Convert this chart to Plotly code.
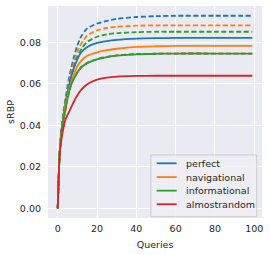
import plotly.graph_objects as go

queries = [0, 1, 2, 3, 4, 5, 6, 7, 8, 10, 12, 15, 20, 25, 30, 40, 50, 60, 80, 99]

perfect_solid = [0, 0.027, 0.038, 0.045, 0.051, 0.056, 0.060, 0.064, 0.067, 0.0718, 0.0752, 0.0778, 0.0797, 0.0806, 0.0812, 0.0818, 0.0820, 0.0821, 0.0821, 0.0821]
navigational_solid = [0, 0.027, 0.037, 0.044, 0.050, 0.054, 0.058, 0.061, 0.064, 0.0685, 0.0712, 0.0735, 0.0752, 0.0762, 0.0769, 0.0778, 0.0781, 0.0783, 0.0783, 0.0783]
informational_solid = [0, 0.027, 0.037, 0.043, 0.048, 0.053, 0.057, 0.060, 0.062, 0.0655, 0.0680, 0.0700, 0.0718, 0.0729, 0.0736, 0.0742, 0.0745, 0.0746, 0.0746, 0.0746]
almostrandom_solid = [0, 0.026, 0.034, 0.039, 0.043, 0.045, 0.047, 0.049, 0.051, 0.0545, 0.0572, 0.0598, 0.0620, 0.0630, 0.0635, 0.0638, 0.0639, 0.0639, 0.0639, 0.0639]

perfect_dashed = [0, 0.027, 0.039, 0.047, 0.053, 0.059, 0.064, 0.068, 0.072, 0.0785, 0.0830, 0.0867, 0.0890, 0.0903, 0.0913, 0.0922, 0.0926, 0.0928, 0.0928, 0.0928]
navigational_dashed = [0, 0.027, 0.038, 0.046, 0.052, 0.057, 0.062, 0.066, 0.0695, 0.0755, 0.0795, 0.0832, 0.0858, 0.0869, 0.0875, 0.0880, 0.0882, 0.0882, 0.0882, 0.0882]
informational_dashed = [0, 0.027, 0.038, 0.045, 0.051, 0.056, 0.060, 0.064, 0.0675, 0.0730, 0.0768, 0.0802, 0.0827, 0.0838, 0.0844, 0.0849, 0.0851, 0.0851, 0.0851, 0.0851]
almostrandom_dashed = [0, 0.027, 0.037, 0.043, 0.048, 0.053, 0.057, 0.060, 0.0622, 0.0656, 0.0681, 0.0701, 0.0719, 0.0730, 0.0737, 0.0743, 0.0745, 0.0746, 0.0746, 0.0746]

names = ["perfect", "navigational", "informational", "almostrandom"]
colors = ["#1f77b4", "#ff7f0e", "#2ca02c", "#d62728"]
solid = [perfect_solid, navigational_solid, informational_solid, almostrandom_solid]
dashed = [perfect_dashed, navigational_dashed, informational_dashed, almostrandom_dashed]

y_ticks = [0.0, 0.02, 0.04, 0.06, 0.08]
x_ticks = [0, 20, 40, 60, 80, 100]

fig = go.Figure()
for name, color, ys in zip(names, colors, dashed):
    fig.add_trace(go.Scatter(x=queries, y=ys, mode="lines", showlegend=False,
                             line=dict(color=color, width=1.8, dash="5px,2.5px",
                                       shape="spline", smoothing=0.6)))
for name, color, ys in zip(names, colors, solid):
    fig.add_trace(go.Scatter(x=queries, y=ys, mode="lines", name=name, showlegend=False,
                             line=dict(color=color, width=1.8, shape="spline", smoothing=0.6)))

font = dict(family="DejaVu Sans", size=9.5, color="#262626")

# manual compact legend (matplotlib style)
shapes = [dict(type="rect", xref="paper", yref="paper", x0=0.481, x1=0.975, y0=0.006, y1=0.297,
               fillcolor="rgba(238,238,244,0.85)", line=dict(color="#CCCCCC", width=1), layer="above")]
annotations = []
row_y = [0.258, 0.193, 0.129, 0.065]
for name, color, yy in zip(names, colors, row_y):
    shapes.append(dict(type="line", xref="paper", yref="paper", x0=0.508, x1=0.601, y0=yy, y1=yy,
                       line=dict(color=color, width=1.8), layer="above"))
    annotations.append(dict(xref="paper", yref="paper", x=0.636, y=yy, text=name, showarrow=False,
                            xanchor="left", yanchor="middle", font=font))

fig.update_layout(
    width=270, height=255,
    margin=dict(l=48, r=8, t=6, b=37),
    paper_bgcolor="white", plot_bgcolor="#EAEAF2",
    font=font, showlegend=False,
    shapes=shapes, annotations=annotations,
    xaxis=dict(range=[-4.95, 103.95], tickvals=x_ticks, showgrid=True, gridcolor="white",
               gridwidth=1, zeroline=False, showline=False, ticks="", automargin=False,
               ticklabelstandoff=3,
               title=dict(text="Queries", font=font, standoff=8)),
    yaxis=dict(range=[-0.00464, 0.0975], tickvals=y_ticks, tickformat=".2f", showgrid=True,
               gridcolor="white", gridwidth=1, zeroline=False, showline=False, ticks="", automargin=False,
               ticklabelstandoff=6,
               title=dict(text="sRBP", font=font, standoff=3)),
)
fig.write_html("out.html", config={"displayModeBar": False},
               post_script="document.body.style.margin='0px';document.body.style.overflow='hidden';")
